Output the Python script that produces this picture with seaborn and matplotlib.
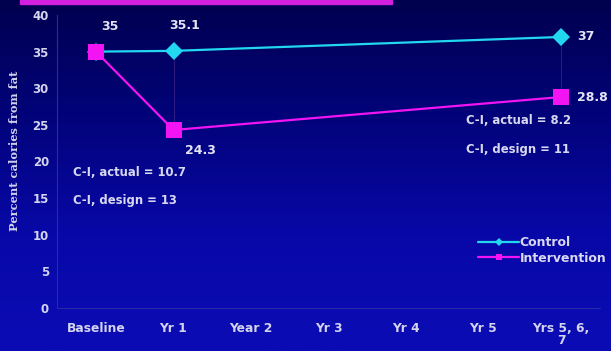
import numpy as np
import pandas as pd
import matplotlib
matplotlib.use("Agg")
import matplotlib.pyplot as plt
from matplotlib.colors import LinearSegmentedColormap
from matplotlib.lines import Line2D
import seaborn as sns

# Category axis and measured values
categories = ["Baseline", "Yr 1", "Year 2", "Yr 3", "Yr 4", "Yr 5", "Yrs 5, 6,\n7"]
measured_at = ["Baseline", "Yr 1", "Yrs 5, 6,\n7"]
control = [35.0, 35.1, 37.0]
intervention = [35.0, 24.3, 28.8]
y_ticks = [0, 5, 10, 15, 20, 25, 30, 35, 40]

gaps = [("C-I, actual = 10.7", "C-I, design = 13"),
        ("C-I, actual = 8.2", "C-I, design = 11")]

sns.set_theme(style="white")
plt.rcParams["font.family"] = ["DejaVu Sans"]

pos = {c: i for i, c in enumerate(categories)}
df = pd.DataFrame({
    "x": [pos[c] for c in measured_at] * 2,
    "value": control + intervention,
    "group": ["Control"] * 3 + ["Intervention"] * 3,
})

fig = plt.figure(figsize=(6.11, 3.51), dpi=100)

# background gradient, dark navy at top to royal blue at the bottom
bg = fig.add_axes([0, 0, 1, 1], zorder=0)
cmap = LinearSegmentedColormap.from_list("bg", ["#00004f", "#02037a", "#0808a8", "#0b0cb4"])
grad = np.linspace(0, 1, 256).reshape(-1, 1)
bg.imshow(grad, aspect="auto", cmap=cmap, extent=[0, 1, 0, 1], origin="upper")
bg.axhspan(0.988, 1.0, xmin=0.033, xmax=0.642, color="#d21fe0")
bg.set_xlim(0, 1)
bg.set_ylim(0, 1)
bg.axis("off")

ax = fig.add_axes([0.0937, 0.1225, 0.8879, 0.8348], zorder=1)
ax.set_facecolor("none")

palette = {"Control": "#22d8f0", "Intervention": "#f214f2"}
markers = {"Control": "D", "Intervention": "s"}

# faint drop lines between the two groups
for c in ["Yr 1", "Yrs 5, 6,\n7"]:
    i = measured_at.index(c)
    ax.plot([pos[c], pos[c]], [intervention[i], control[i]], color="#4a2a8a", lw=0.8, alpha=0.6, zorder=1)

sns.lineplot(data=df, x="x", y="value", hue="group", style="group",
             palette=palette, markers=markers, dashes=False, lw=1.6,
             markeredgewidth=0, ax=ax, zorder=3, legend=False)
for line in ax.lines:
    if line.get_marker() == "D":
        line.set_markersize(9)
    elif line.get_marker() == "s":
        line.set_markersize(11.5)
        line.set_zorder(4)

ax.set_xlim(-0.5, len(categories) - 0.5)
ax.set_ylim(0, 40)
ax.set_xticks(range(len(categories)))
ax.set_xticklabels(categories, fontsize=8.8, fontweight="bold", color="#d4d4ee", linespacing=0.9)
ax.set_yticks(y_ticks)
ax.set_yticklabels([str(t) for t in y_ticks], fontsize=8.5, fontweight="bold", color="#d4d4ee")
ax.tick_params(axis="y", length=0, pad=6)
ax.tick_params(axis="x", length=0, pad=10)
for s in ["top", "right"]:
    ax.spines[s].set_visible(False)
for s in ["left", "bottom"]:
    ax.spines[s].set_color("#2a2aa8")
    ax.spines[s].set_linewidth(0.8)
ax.set_xlabel("")
ax.set_ylabel("Percent calories from fat", family=["DejaVu Serif"],
              fontsize=8.2, fontweight="bold", color="#d0d0ea")
ax.yaxis.set_label_coords(-0.068, 0.535)

# value labels
txt = dict(fontsize=9, fontweight="bold", color="#e4e4f6", va="center", ha="left",
           textcoords="offset points")
ax.annotate(f"{control[0]:g}", (0, control[0]), xytext=(4, 18), **txt)
ax.annotate(f"{control[1]:g}", (1, control[1]), xytext=(-3, 18), **txt)
ax.annotate(f"{control[2]:g}", (6, control[2]), xytext=(11.5, 0), **txt)
ax.annotate(f"{intervention[1]:g}", (1, intervention[1]), xytext=(8, -14.5), **txt)
ax.annotate(f"{intervention[2]:g}", (6, intervention[2]), xytext=(11.5, 0), **txt)

gtxt = dict(fontsize=8.4, fontweight="bold", color="#d8d8f0", va="center")
ax.text(-0.3, 18.55, gaps[0][0], **gtxt)
ax.text(-0.3, 14.7, gaps[0][1], **gtxt)
ax.text(4.77, 25.6, gaps[1][0], **gtxt)
ax.text(4.77, 21.7, gaps[1][1], **gtxt)

# legend
handles = [Line2D([], [], color=palette[g], marker=markers[g], markersize=4.5 if g == "Control" else 5,
                  lw=1.6, markeredgewidth=0) for g in ["Control", "Intervention"]]
leg = ax.legend(handles, ["Control", "Intervention"], loc="center left",
                bbox_to_anchor=(478 / 611, 1 - 250.5 / 351), bbox_transform=fig.transFigure,
                frameon=False, handlelength=3.3, borderpad=0, borderaxespad=0,
                handletextpad=0.05, labelspacing=0.2,
                prop={"size": 9, "weight": "bold"})
for t in leg.get_texts():
    t.set_color("#d8d8f0")

fig.savefig("out.png", dpi=100)
